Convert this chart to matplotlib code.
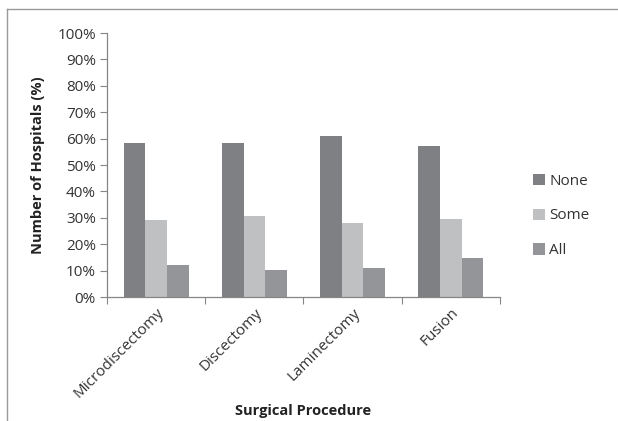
import numpy as np
import matplotlib
matplotlib.use("Agg")
import matplotlib.pyplot as plt
from matplotlib.lines import Line2D
from matplotlib.ticker import FuncFormatter

plt.rcParams['font.family'] = ['Open Sans', 'DejaVu Sans']

procedures = ['Microdiscectomy', 'Discectomy', 'Laminectomy', 'Fusion']
series_names = ['None', 'Some', 'All']
none_pct = [58.5, 58.5, 60.9, 57.2]
some_pct = [29.2, 30.8, 28.0, 29.4]
all_pct = [12.0, 10.3, 10.9, 14.7]
colors = ['#7f8083', '#bfc0c2', '#949598']
yticks = list(range(0, 101, 10))

fig = plt.figure(figsize=(6.18, 4.21), dpi=100)
ax = fig.add_axes([0.1731, 0.2945, 0.6359, 0.6271])

x = np.arange(len(procedures))
w = 0.22
for k, (vals, name) in enumerate(zip([none_pct, some_pct, all_pct], series_names)):
    ax.bar(x + (k - 1) * w, vals, width=w, color=colors[k], label=name,
           edgecolor='none', zorder=2)

ax.set_xlim(-0.5, len(procedures) - 0.5)
ax.set_ylim(0, 100)
ax.set_yticks(yticks)
ax.yaxis.set_major_formatter(FuncFormatter(lambda v, p: f'{v:.0f}%'))

# category boundaries as x ticks, labels at centers
ax.set_xticks(np.arange(-0.5, len(procedures), 1.0))
ax.set_xticklabels([])
ax.set_xticks(x, minor=True)
ax.set_xticklabels(procedures, minor=True, rotation=45, ha='right',
                   rotation_mode='anchor', fontsize=11, color='#333333')
ax.tick_params(axis='x', which='minor', length=0, pad=6)
ax.tick_params(axis='x', which='major', length=5, color='#868686', direction='out')
ax.tick_params(axis='y', length=5, color='#868686', labelsize=11, labelcolor='#333333', pad=3)

for s in ['top', 'right']:
    ax.spines[s].set_visible(False)
for s in ['left', 'bottom']:
    ax.spines[s].set_color('#868686')
    ax.spines[s].set_linewidth(0.9)

ax.set_ylabel('Number of Hospitals (%)', fontsize=10.5, fontweight='bold',
              color='#222222', labelpad=9)
ax.set_xlabel('Surgical Procedure', fontsize=10.5, fontweight='bold',
              color='#222222', labelpad=2)

leg = ax.legend(loc='center left', bbox_to_anchor=(1.05, 0.307), frameon=False,
                fontsize=11, handlelength=0.75, handleheight=0.75,
                handletextpad=0.3, labelspacing=1.3)
for t in leg.get_texts():
    t.set_color('#333333')

# outer chart frame (top and left edge only)
fig.add_artist(Line2D([7 / 618, 1.0], [1 - 9 / 421, 1 - 9 / 421],
                      transform=fig.transFigure, color='#9a9a9a', lw=1.0))
fig.add_artist(Line2D([7 / 618, 7 / 618], [0, 1 - 9 / 421],
                      transform=fig.transFigure, color='#9a9a9a', lw=1.0))

fig.savefig('out.png', dpi=100)
